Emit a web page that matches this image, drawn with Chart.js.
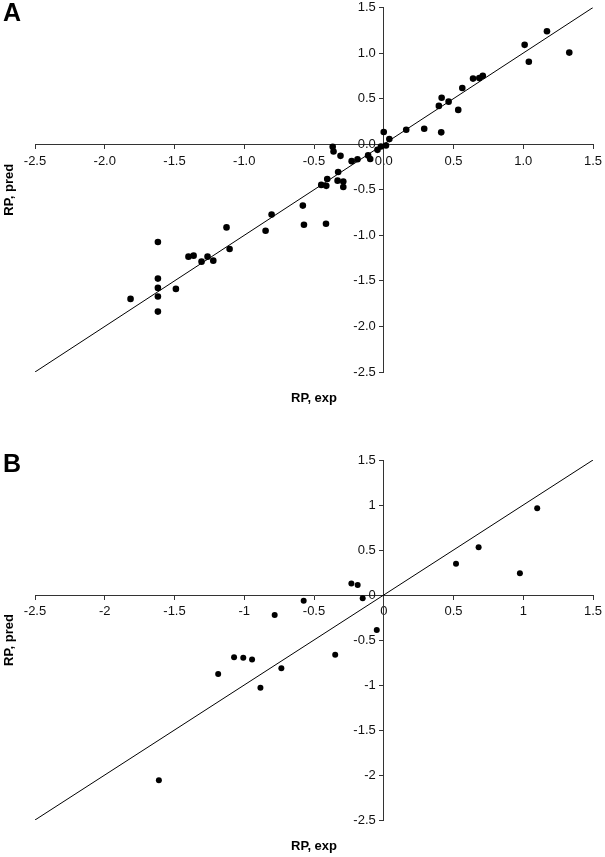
<!DOCTYPE html>
<html>
<head>
<meta charset="utf-8">
<script src="https://cdn.jsdelivr.net/npm/chart.js@4.4.1/dist/chart.umd.min.js"></script>
<style>
    html, body { margin: 0; padding: 0; background: #fff; }
    body { width: 605px; height: 857px; position: relative; overflow: hidden; font-family: "Liberation Sans", Arial, sans-serif; }
    .panel { position: absolute; left: 0; }
    #wrap-a { top: 0; }
    #wrap-b { top: 440px; }
    .letter { position: absolute; left: 3px; font-weight: bold; font-size: 25px; line-height: 1; color: #000; }
</style>
</head>
<body>
<div class="panel" id="wrap-a"><canvas id="chart-a" width="605" height="420"></canvas></div>
<div class="panel" id="wrap-b"><canvas id="chart-b" width="605" height="417"></canvas></div>
<div class="letter" style="top:0px">A</div>
<div class="letter" style="top:451px">B</div>
<script>
// Panel A - RP experimental vs predicted (training set)
const expA = [
    1.17, 1.01, 1.04, 1.33, 0.64, 0.685, 0.71, 0.563, 0.415, 0.395,
    0.465, 0.534, 0.161, 0.29, 0.412, 0.0, 0.04, 0.016, -0.02, -0.045,
    -0.097, -0.112, -0.188, -0.23, -0.31, -0.366, -0.36, -0.327, -0.331, -0.29,
    -0.29, -0.405, -0.448, -0.412, -0.58, -0.572, -0.414, -0.804, -0.847, -1.127,
    -1.105, -1.40, -1.363, -1.306, -1.263, -1.222, -1.619, -1.619, -1.619, -1.619,
    -1.619, -1.49, -1.815
];
const predA = [
    1.24, 1.09, 0.905, 1.005, 0.72, 0.725, 0.75, 0.617, 0.51, 0.42,
    0.467, 0.376, 0.158, 0.17, 0.13, 0.133, 0.056, -0.015, -0.025, -0.062,
    -0.162, -0.123, -0.165, -0.186, -0.128, -0.028, -0.081, -0.305, -0.40, -0.41,
    -0.47, -0.382, -0.447, -0.457, -0.674, -0.884, -0.873, -0.771, -0.95, -0.913,
    -1.15, -1.234, -1.223, -1.289, -1.234, -1.278, -1.073, -1.475, -1.577, -1.672,
    -1.837, -1.588, -1.698
];

// Panel B - test set
const expB = [
    1.10, 0.68, 0.518, 0.976, -0.232, -0.187, -0.151, -0.05, -0.574, -0.782,
    -0.348, -0.734, -1.073, -1.007, -0.944, -1.187, -0.884, -1.612
];
const predB = [
    0.963, 0.53, 0.348, 0.241, 0.128, 0.11, -0.037, -0.39, -0.065, -0.222,
    -0.663, -0.815, -0.692, -0.696, -0.718, -0.878, -1.03, -2.059
];

// Line of identity
const lineX = [-2.5, 1.5];
const lineY = [-2.5, 1.5];

// Axis ticks
const tickValues = [-2.5, -2.0, -1.5, -1.0, -0.5, 0.0, 0.5, 1.0, 1.5];
const tickLabelsA = ['-2.5', '-2.0', '-1.5', '-1.0', '-0.5', '0.0', '0.5', '1.0', '1.5'];
const tickLabelsB = ['-2.5', '-2', '-1.5', '-1', '-0.5', '0', '0.5', '1', '1.5'];

const FONT = '"Liberation Sans", Arial, Helvetica, sans-serif';
const AXIS_COLOR = '#333';
const Y_LABEL_SHIFT = 8;

// Las etiquetas del eje Y centrado quedan pegadas al eje: moverlas a la izquierda
const shiftYLabels = {
    id: 'shiftYLabels',
    afterLayout(chart) {
        const scale = chart.scales.y;
        scale._labelItems = null;
        scale.getLabelItems().forEach(item => {
            item.options.translation[0] -= Y_LABEL_SHIFT;
        });
    }
};

function axisOptions(labels, isX) {
    return {
        type: 'linear',
        min: -2.5,
        max: 1.5,
        position: isX ? { y: 0 } : { x: 0 },
        // el eje cruza en el origen: no reservar espacio
        afterFit: (scale) => {
            if (isX) scale.height = 0; else scale.width = 0;
            scale.paddingTop = 0;
            scale.paddingBottom = 0;
            scale.paddingLeft = 0;
            scale.paddingRight = 0;
        },
        afterBuildTicks: (scale) => {
            scale.ticks = tickValues.map(v => ({ value: v }));
        },
        grid: {
            display: true,
            drawOnChartArea: false,
            drawTicks: true,
            tickLength: 4,
            color: AXIS_COLOR,
            lineWidth: 1
        },
        border: { display: true, color: AXIS_COLOR, width: 1 },
        ticks: {
            autoSkip: false,
            maxRotation: 0,
            padding: isX ? 5 : 4,
            color: '#111',
            font: { family: FONT, size: 13 },
            callback: (value, index) => labels[index]
        }
    };
}

function createPanel(canvasId, xs, ys, labels, opts) {
    const ctx = document.getElementById(canvasId);
    const points = xs.map((x, i) => ({ x: x, y: ys[i] }));
    const line = lineX.map((x, i) => ({ x: x, y: lineY[i] }));

    return new Chart(ctx, {
        type: 'scatter',
        data: {
            datasets: [{
                type: 'line',
                data: line,
                borderColor: '#000',
                borderWidth: 1,
                pointRadius: 0,
                fill: false
            }, {
                data: points,
                backgroundColor: '#000',
                borderWidth: 0,
                pointRadius: opts.radius
            }]
        },
        options: {
            responsive: false,
            animation: false,
            events: [],
            layout: { padding: { top: opts.padTop, right: 12, bottom: 0, left: 0 } },
            plugins: {
                legend: { display: false },
                tooltip: { enabled: false },
                title: {
                    display: true,
                    text: 'RP, pred',
                    position: 'left',
                    fullSize: false,
                    color: '#000',
                    font: { family: FONT, size: 13, weight: 'bold' },
                    padding: { top: 2, bottom: 17.4 }
                },
                subtitle: {
                    display: true,
                    text: 'RP, exp',
                    position: 'bottom',
                    fullSize: false,
                    color: '#000',
                    font: { family: FONT, size: 13, weight: 'bold' },
                    padding: { top: 18.2, bottom: opts.padBottom }
                }
            },
            scales: {
                x: axisOptions(labels, true),
                y: axisOptions(labels, false)
            }
        },
        plugins: [shiftYLabels]
    });
}

createPanel('chart-a', expA, predA, tickLabelsA, { radius: 3.3, padTop: 7.5, padBottom: 14.2 });
createPanel('chart-b', expB, predB, tickLabelsB, { radius: 3, padTop: 20, padBottom: 3.2 });
</script>
</body>
</html>
